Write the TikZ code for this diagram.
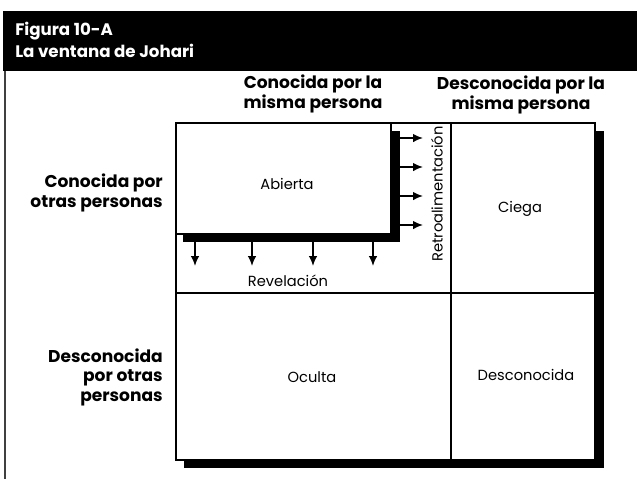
\documentclass[tikz,border=0pt]{standalone}
\usepackage{fontspec}
\setmainfont{Poppins}
\usetikzlibrary{arrows.meta}
\begin{document}
\begin{tikzpicture}[x=0.75pt,y=-0.75pt,
  hdr/.style={font=\bfseries\fontsize{12.8}{12.8}\selectfont, align=center, inner sep=0pt},
  rowlbl/.style={font=\bfseries\fontsize{12.8}{14.6}\selectfont, align=right, anchor=east, inner sep=0pt},
  cell/.style={font=\fontsize{11}{13}\selectfont, inner sep=0pt},
  frame/.style={draw=black, line width=0.8pt},
  shadow/.style={fill=black, draw=none},
  flow/.style={line width=1.2pt, -{Latex[length=7.5pt,width=6.5pt]}}
]
\useasboundingbox (0,0) rectangle (637,479);
% header band
\fill[black] (3,11) rectangle (637,71);
\node[anchor=west, text=white, inner sep=0pt, align=left,
      font=\bfseries\fontsize{12.5}{16.5}\selectfont] (title) at (15,40)
      {Figura 10-A\\La ventana de Johari};
% left border
\draw[line width=1.6pt, black!75] (5,71) -- (5,479);
% column headers
\node[hdr] (colA) at (313,94) {Conocida por la\\misma persona};
\node[hdr] (colB) at (521,95) {Desconocida por la\\misma persona};
% row labels
\node[rowlbl] (rowA) at (163,193) {Conocida por\\otras personas};
\node[rowlbl] (rowB) at (163,377) {Desconocida\\por otras\\personas};
% outer shadow
\fill[shadow] (595,131) rectangle (604,468);
\fill[shadow] (184,460) rectangle (604,468);
% grid
\draw[frame, fill=white] (176,123) rectangle (595,460);
\draw[frame] (451,123) -- (451,460);
\draw[frame] (176,293) -- (595,293);
% inner shadow for Abierta
\fill[shadow] (391,131) rectangle (400,242);
\fill[shadow] (183,234) rectangle (400,242);
\draw[frame, fill=white] (176,123) rectangle (391,234);
% cell texts
\node[cell] (abierta) at (287,184) {Abierta};
\node[cell] (ciega) at (520,209) {Ciega};
\node[cell] (oculta) at (312,377) {Oculta};
\node[cell] (desc) at (526,375) {Desconocida};
\node[cell] (revel) at (288,281) {Revelación};
\node[cell, rotate=90] (retro) at (437,194) {Retroalimentación};
% feedback arrows
\foreach \i/\yy in {1/138,2/167,3/196,4/225}{
  \coordinate (rs\i) at (400,\yy);
  \coordinate (re\i) at (423,\yy);
  \draw[flow] (rs\i) -- (re\i);
}
% disclosure arrows
\foreach \i/\xx in {1/195,2/252,3/313,4/373}{
  \coordinate (ds\i) at (\xx,242);
  \coordinate (de\i) at (\xx,266);
  \draw[flow] (ds\i) -- (de\i);
}
\end{tikzpicture}
\end{document}
